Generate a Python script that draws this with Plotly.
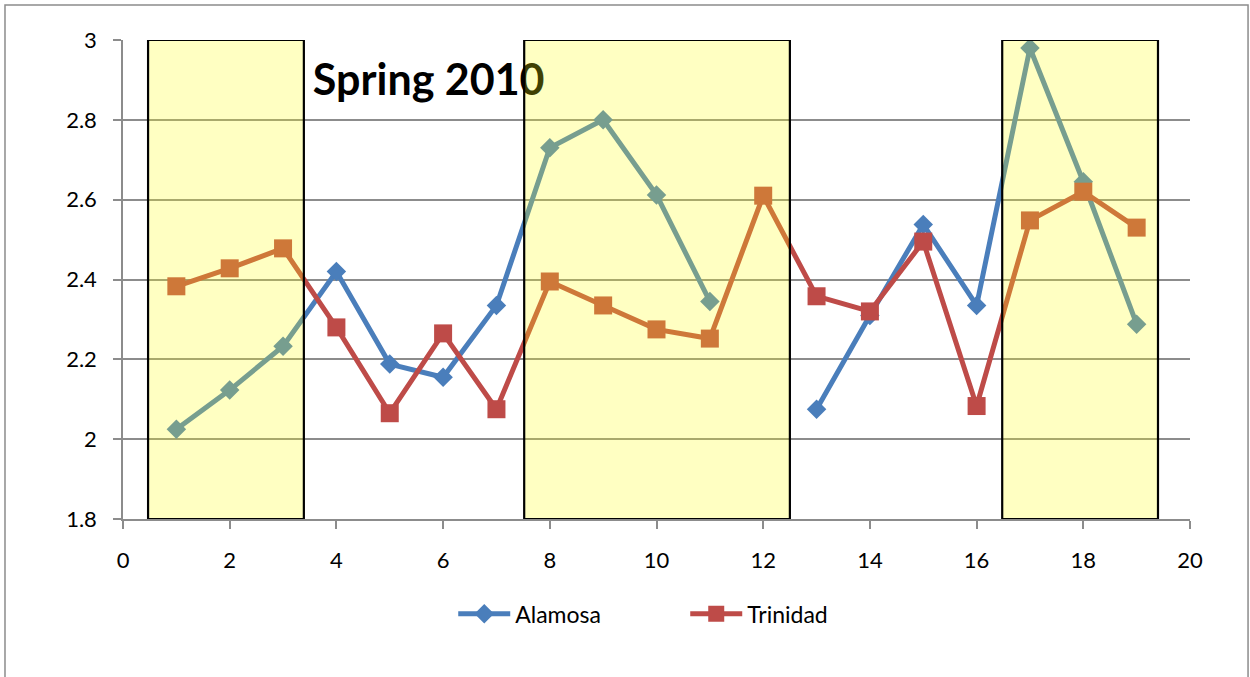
import plotly.graph_objects as go

x_vals = list(range(1, 20))
alamosa = [2.025, 2.123, 2.233, 2.42, 2.188, 2.155, 2.335, 2.73, 2.80, 2.612, 2.345,
           None, 2.075, 2.31, 2.538, 2.335, 2.98, 2.645, 2.288]
trinidad = [2.383, 2.428, 2.478, 2.28, 2.065, 2.265, 2.075, 2.395, 2.335, 2.275, 2.252,
            2.61, 2.358, 2.32, 2.495, 2.083, 2.548, 2.62, 2.53]
x_ticks = list(range(0, 21, 2))
y_ticks = [1.8, 2, 2.2, 2.4, 2.6, 2.8, 3]
y_tick_text = ["1.8", "2", "2.2", "2.4", "2.6", "2.8", "3"]
highlight_spans = [(0.47, 3.39), (7.52, 12.5), (16.48, 19.4)]
title_text = "Spring 2010"

FONT = "Lato"
fig = go.Figure()

fig.add_trace(go.Scatter(
    x=[5.73], y=[2.888], mode="text", text=[title_text], showlegend=False,
    textposition="middle center", hoverinfo="skip",
    textfont=dict(family=FONT, size=43, color="black", weight="bold"),
))
fig.add_trace(go.Scatter(
    x=x_vals, y=alamosa, name="Alamosa", mode="lines+markers", connectgaps=False,
    line=dict(color="#4A7EBB", width=5),
    marker=dict(symbol="diamond", size=15, color="#4A7EBB"),
))
fig.add_trace(go.Scatter(
    x=x_vals, y=trinidad, name="Trinidad", mode="lines+markers",
    line=dict(color="#BE4B48", width=5),
    marker=dict(symbol="square", size=18, color="#BE4B48"),
))

for x0, x1 in highlight_spans:
    fig.add_shape(type="rect", xref="x", yref="y", x0=x0, x1=x1, y0=1.8, y1=3.0,
                  fillcolor="rgba(255,255,10,0.25)", line=dict(color="black", width=2.2),
                  layer="above")

# outer chart border
fig.add_shape(type="rect", xref="paper", yref="paper", x0=-0.1106, x1=1.0544,
              y0=-0.40, y1=1.0731, line=dict(color="#8C8C8C", width=1.5),
              fillcolor="rgba(0,0,0,0)", layer="below")

fig.update_layout(
    width=1250, height=677,
    margin=dict(l=123, r=60, t=40, b=158),
    paper_bgcolor="white", plot_bgcolor="white",
    font=dict(family=FONT, size=20, color="black"),
    showlegend=True,
    legend=dict(orientation="h", x=0.3095, xanchor="left", y=-0.153, yanchor="top",
                font=dict(family=FONT, size=23), itemwidth=52,
                entrywidth=165, entrywidthmode="pixels"),
    xaxis=dict(range=[0, 20], tickvals=x_ticks, showgrid=False, zeroline=False,
               showline=True, linecolor="#8C8C8C", linewidth=1.5,
               ticks="outside", ticklen=8, tickcolor="#8C8C8C", tickwidth=1.5,
               ticklabelstandoff=13, tickfont=dict(family=FONT, size=22)),
    yaxis=dict(range=[1.8, 3], tickvals=y_ticks, ticktext=y_tick_text,
               showgrid=True, gridcolor="#8C8C8C", gridwidth=1.5, zeroline=False,
               showline=True, linecolor="#8C8C8C", linewidth=1.5,
               ticks="outside", ticklen=8, tickcolor="#8C8C8C", tickwidth=1.5,
               ticklabelstandoff=12, tickfont=dict(family=FONT, size=22)),
)

fig.write_html("out.html", config={"displayModeBar": False},
               post_script="document.body.style.margin='0px';")
